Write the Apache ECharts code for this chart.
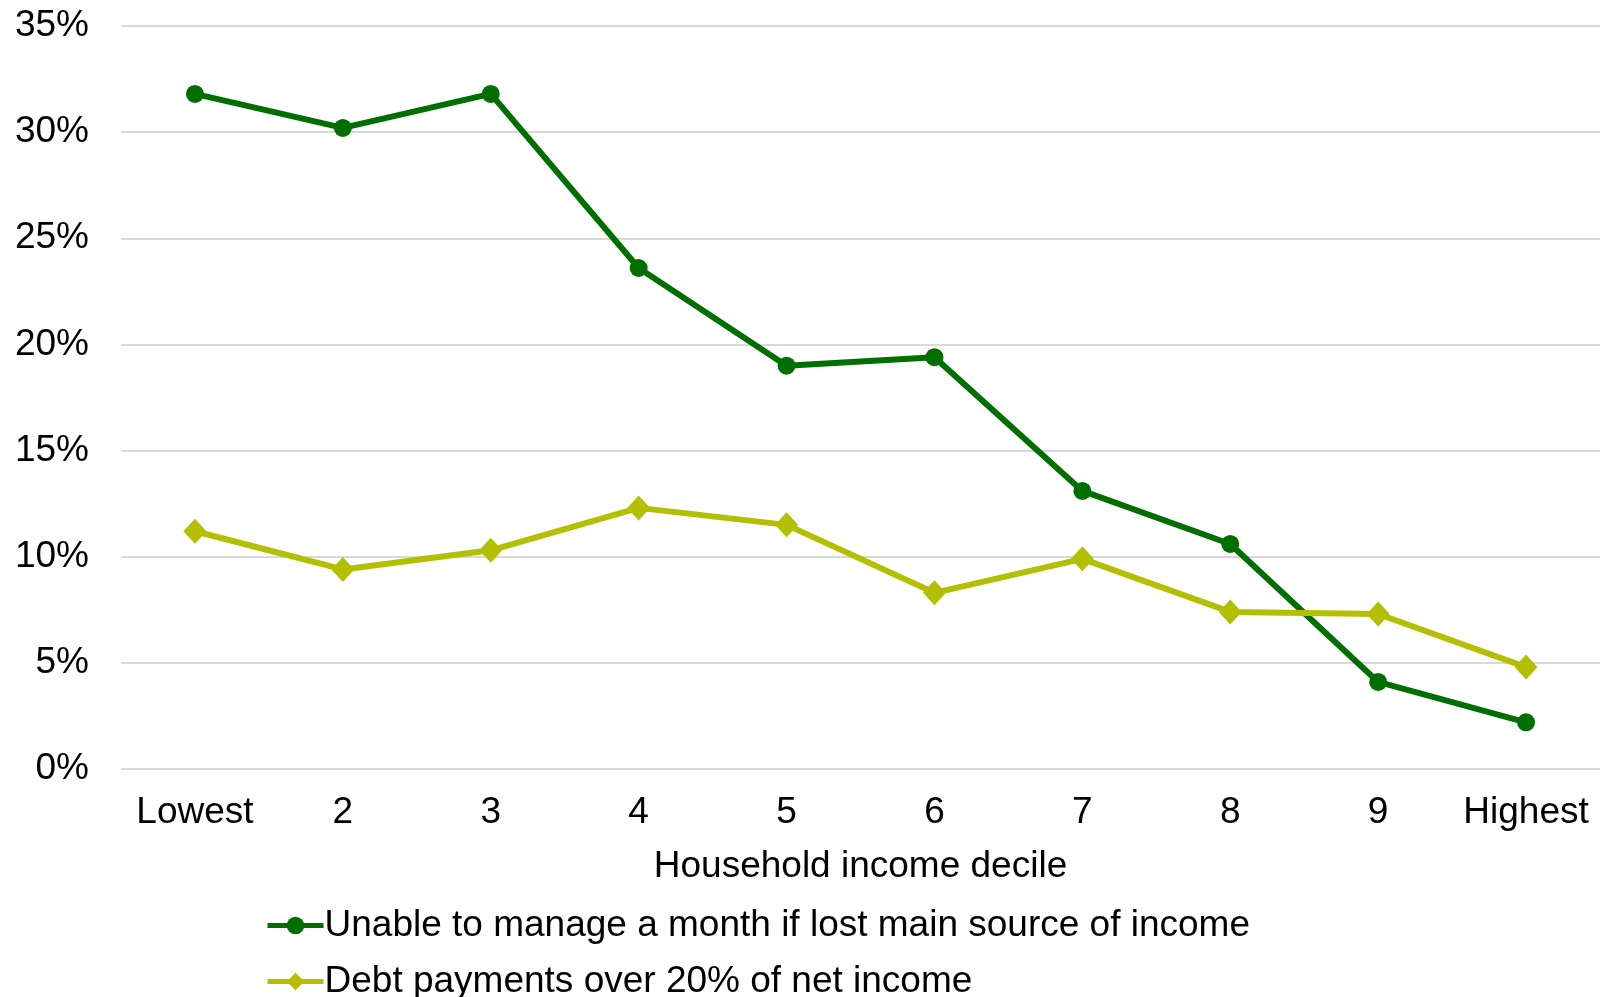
<!DOCTYPE html>
<html>
<head>
<meta charset="utf-8">
<script src="https://cdn.jsdelivr.net/npm/echarts@6/dist/echarts.min.js"></script>
<style>
  html, body { margin: 0; padding: 0; background: #fff; }
  #chart { width: 1603px; height: 997px; }
</style>
</head>
<body>
<div id="chart"></div>
<script>
const categories = ['Lowest', '2', '3', '4', '5', '6', '7', '8', '9', 'Highest']
const unableToManage = [31.8, 30.2, 31.8, 23.6, 19.0, 19.4, 13.1, 10.6, 4.1, 2.2]
const debtPayments = [11.2, 9.4, 10.3, 12.3, 11.5, 8.3, 9.9, 7.4, 7.3, 4.8]
const yTicks = [0, 5, 10, 15, 20, 25, 30, 35]

const font = '"Liberation Sans", Arial, sans-serif'
const green = '#006f00'
const olive = '#b3bf00'

const chart = echarts.init(document.getElementById('chart'))

chart.setOption({
  animation: false,
  textStyle: { fontFamily: font },
  grid: { left: 121, right: 3, top: 26, bottom: 228 },
  legend: {
    orient: 'vertical',
    left: 260,
    top: 902,
    height: 200,
    itemWidth: 56,
    itemHeight: 22,
    itemGap: 19,
    lineStyle: { width: 5 },
    textStyle: { fontSize: 37, color: '#000', fontFamily: font, padding: [0, 0, 0, -4] },
    data: ['Unable to manage a month if lost main source of income', 'Debt payments over 20% of net income']
  },
  xAxis: {
    type: 'category',
    data: categories,
    name: 'Household income decile',
    nameLocation: 'middle',
    nameGap: 79,
    nameTextStyle: { fontSize: 37, color: '#000', fontFamily: font },
    axisLine: { show: false },
    axisTick: { show: false },
    axisLabel: { fontSize: 37, color: '#000', margin: 25, fontFamily: font, interval: 0 }
  },
  yAxis: {
    type: 'value',
    min: yTicks[0],
    max: yTicks[yTicks.length - 1],
    interval: 5,
    axisLine: { show: false },
    axisTick: { show: false },
    axisLabel: { fontSize: 37, color: '#000', margin: 32, fontFamily: font, formatter: '{value}%' },
    splitLine: { lineStyle: { color: '#d9d9d9', width: 2 } }
  },
  series: [
    {
      name: 'Unable to manage a month if lost main source of income',
      type: 'line',
      data: unableToManage,
      symbol: 'circle',
      symbolSize: 18,
      itemStyle: { color: green },
      lineStyle: { color: green, width: 6 }
    },
    {
      name: 'Debt payments over 20% of net income',
      type: 'line',
      data: debtPayments,
      symbol: 'diamond',
      symbolSize: [23, 25],
      itemStyle: { color: olive },
      lineStyle: { color: olive, width: 6 }
    }
  ]
})
</script>
</body>
</html>
